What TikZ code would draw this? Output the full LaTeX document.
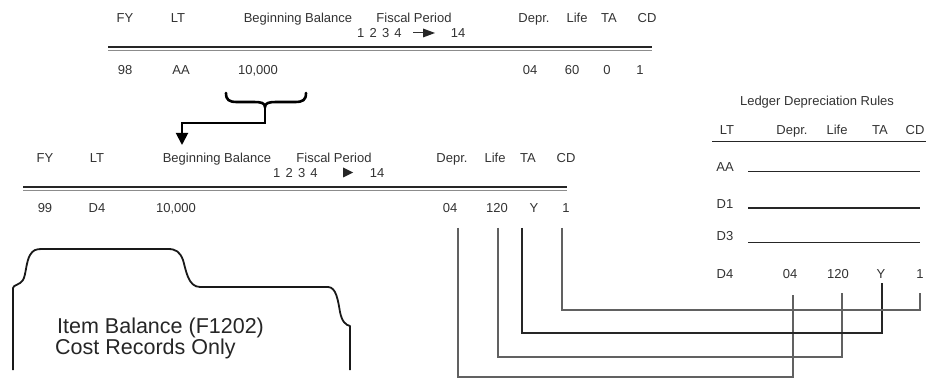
\documentclass[tikz,border=0pt]{standalone}
\usepackage{fontspec}
\setmainfont{Liberation Sans}
\usetikzlibrary{arrows.meta}
\newcommand{\nsp}{\hspace{5.2pt}}
\begin{document}
\begin{tikzpicture}[x=1pt,y=-1pt,
 txt/.style={font=\fontsize{13}{15}\selectfont, text=black!80, inner sep=0pt, anchor=base},
 txtw/.style={txt, anchor=base west},
 big/.style={font=\fontsize{21.5}{24}\selectfont, text=black!85, inner sep=0pt, anchor=base west},
 rulemain/.style={line width=1.6pt, black!85},
 rulelite/.style={line width=0.8pt, black!45},
 conn/.style={line width=1.4pt, black!62},
 ledgerline/.style={line width=1.8pt, black!85},
 tabline/.style={line width=1.8pt, black!90, line join=round},
 bracestyle/.style={line width=2.6pt, black, line cap=round},
]
\useasboundingbox (0,0) rectangle (926,379);
\fill[white] (0,0) rectangle (926,379);

% ---------- top table ----------
\node[txt] (tFY) at (125,22.6) {FY};
\node[txt] (tLT) at (178,22.6) {LT};
\node[txt] (tBB) at (298,22.6) {Beginning Balance};
\node[txt] (tFP) at (414,22.6) {Fiscal Period};
\node[txtw] (tNum) at (357,37.6) {1\nsp 2\nsp 3\nsp 4};
\node[txt] (t14) at (458,37.6) {14};
\draw[line width=1pt, black!80] (413,33) -- (424,33);
\fill[black!85] (423,28.5) -- (435,33) -- (423,37.5) -- cycle;
\node[txt] (tDe) at (534,22.6) {Depr.};
\node[txt] (tLi) at (577,22.6) {Life};
\node[txt] (tTA) at (609,22.6) {TA};
\node[txt] (tCD) at (647,22.6) {CD};
\coordinate (tl1) at (108,47.3); \coordinate (tr1) at (652,47.3);
\coordinate (tl2) at (108,50.2); \coordinate (tr2) at (652,50.2);
\draw[rulemain] (tl1) -- (tr1);
\draw[rulelite] (tl2) -- (tr2);
\node[txt] (r98) at (125,74.6) {98};
\node[txt] (rAA) at (181,74.6) {AA};
\node[txt] (rBal1) at (258,74.6) {10,000};
\node[txt] (r04a) at (530,74.6) {04};
\node[txt] (r60) at (572,74.6) {60};
\node[txt] (r0) at (607,74.6) {0};
\node[txt] (r1a) at (640,74.6) {1};

% ---------- brace and arrow ----------
\coordinate (bt) at (265,107);
\coordinate (arrEnd) at (182,145);
\draw[bracestyle] (226,93) .. controls (226,100) and (229,102) .. (237,102) -- (254,102)
   .. controls (261,102) and (265,103) .. (bt)
   .. controls (265,103) and (269,102) .. (276,102) -- (295,102)
   .. controls (303,102) and (306,100) .. (306,93);
\draw[line width=1.9pt, black, -{Triangle[width=12pt,length=12pt]}] (bt) -- (265,123) -| (arrEnd);

% ---------- second table ----------
\node[txt] (sFY) at (45,162.6) {FY};
\node[txt] (sLT) at (97,162.6) {LT};
\node[txt] (sBB) at (217,162.6) {Beginning Balance};
\node[txt] (sFP) at (334,162.6) {Fiscal Period};
\node[txtw] (sNum) at (273,177.6) {1\nsp 2\nsp 3\nsp 4};
\fill[black!85] (343,167.5) -- (353,172.5) -- (343,177.5) -- cycle;
\node[txt] (s14) at (377,177.6) {14};
\node[txt] (sDe) at (452,162.6) {Depr.};
\node[txt] (sLi) at (495,162.6) {Life};
\node[txt] (sTA) at (528,162.6) {TA};
\node[txt] (sCD) at (566,162.6) {CD};
\coordinate (sl1) at (23,187.3); \coordinate (sr1) at (567,187.3);
\coordinate (sl2) at (23,190.2); \coordinate (sr2) at (567,190.2);
\draw[rulemain] (sl1) -- (sr1);
\draw[rulelite] (sl2) -- (sr2);
\node[txt] (q99) at (45,212.6) {99};
\node[txt] (qD4) at (97,212.6) {D4};
\node[txt] (qBal) at (176,212.6) {10,000};
\node[txt] (q04) at (450,212.6) {04};
\node[txt] (q120) at (497,212.6) {120};
\node[txt] (qY) at (534,212.6) {Y};
\node[txt] (q1) at (566,212.6) {1};

% ---------- ledger depreciation rules ----------
\node[txt] (lTitle) at (817,105.6) {Ledger Depreciation Rules};
\node[txt] (lLT) at (727,134.6) {LT};
\node[txt] (lDe) at (792,134.6) {Depr.};
\node[txt] (lLi) at (837,134.6) {Life};
\node[txt] (lTA) at (880,134.6) {TA};
\node[txt] (lCD) at (915,134.6) {CD};
\coordinate (ll) at (712,141.5); \coordinate (lr) at (926,141.5);
\draw[ledgerline] (ll) -- (lr);
\node[txt] (lAA) at (725,171.6) {AA};
\node[txt] (lD1) at (725,208.6) {D1};
\node[txt] (lD3) at (725,240.6) {D3};
\node[txt] (lD4) at (725,278.6) {D4};
\coordinate (eAA) at (920,171.5);
\coordinate (eD1) at (920,208);
\coordinate (eD3) at (920,242.5);
\draw[ledgerline] (748,171.5) -- (eAA);
\draw[ledgerline] (748,208) -- (eD1);
\draw[ledgerline] (748,242.5) -- (eD3);
\node[txt] (l04) at (790,278.6) {04};
\node[txt] (l120) at (838,278.6) {120};
\node[txt] (lY) at (881,278.6) {Y};
\node[txt] (l1) at (920,278.6) {1};

% ---------- connectors ----------
\coordinate (s1) at (458,228); \coordinate (e1) at (793,295);
\coordinate (s2) at (498,228); \coordinate (e2) at (842,293);
\coordinate (s3) at (522,228); \coordinate (e3) at (882,283);
\coordinate (s4) at (562,228); \coordinate (e4) at (920,293);
\draw[conn] (s1) -- ++(0,149) -| (e1);
\draw[conn] (s2) -- ++(0,129) -| (e2);
\draw[conn, black!85] (s3) -- ++(0,105) -| (e3);
\draw[conn] (s4) -- ++(0,82) -| (e4);

% ---------- item balance tab shape ----------
\draw[tabline] (13,370) -- (13,288)
  .. controls (13,285) and (20,285) .. (23,280)
  .. controls (26,275) and (26,262) .. (30,255)
  .. controls (33,250) and (36,249) .. (42,249)
  -- (168,249)
  .. controls (176,249) and (180,252) .. (183,260)
  .. controls (186,270) and (188,287) .. (200,287)
  -- (328,287)
  .. controls (336,287) and (338,300) .. (340,312)
  .. controls (342,322) and (346,325) .. (350,326)
  -- (350,370);
\node[big] (ib1) at (57,334) {Item Balance (F1202)};
\node[big] (ib2) at (55,354) {Cost Records Only};
\end{tikzpicture}
\end{document}
